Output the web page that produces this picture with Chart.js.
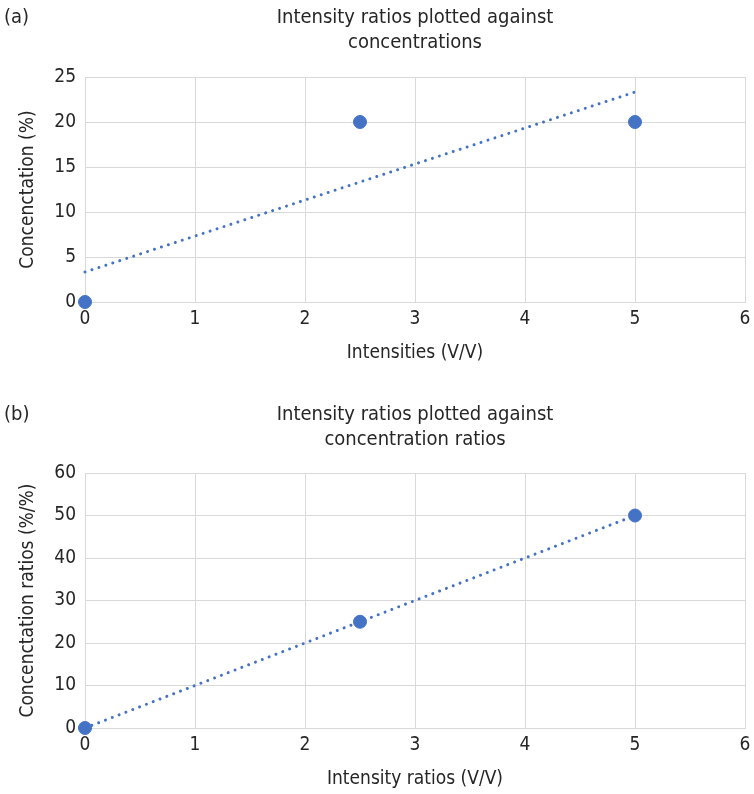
<!DOCTYPE html>
<html>
<head>
<meta charset="utf-8">
<script src="https://cdn.jsdelivr.net/npm/chart.js@4/dist/chart.umd.min.js"></script>
<style>
  html, body { margin: 0; padding: 0; background: #ffffff; }
  canvas { display: block; }
</style>
</head>
<body>
<canvas id="chartA" width="754" height="397"></canvas>
<canvas id="chartB" width="754" height="397"></canvas>
<script>
// Panel (a): intensities against concentrations
const intensitiesA = [0, 2.5, 5];
const concentrationsA = [0, 20, 20];
const trendXA = [0, 5];
const trendYA = [3.33, 23.33];

// Panel (b): intensity ratios against concentration ratios
const intensityRatiosB = [0, 2.5, 5];
const concentrationRatiosB = [0, 25, 50];
const trendXB = [0, 5];
const trendYB = [0, 50];

// Axis ranges and tick steps
const xTicks = { min: 0, max: 6, step: 1 };
const yTicksA = { min: 0, max: 25, step: 5 };
const yTicksB = { min: 0, max: 60, step: 10 };

const FONT = "'Liberation Sans Narrow', 'DejaVu Sans Condensed', 'Open Sans', sans-serif";
const TEXT = '#262626';
const GRID = '#d9d9d9';
const BLUE = '#4472c4';

const toPoints = (xs, ys) => xs.map((x, i) => ({ x: x, y: ys[i] }));

// Title lines centred over the plot area, plus the panel letter at top-left
const panelTitle = {
  id: 'panelTitle',
  afterDraw(chart, args, opts) {
    const { ctx, chartArea } = chart;
    ctx.save();
    ctx.fillStyle = TEXT;
    ctx.font = `20px ${FONT}`;
    ctx.textBaseline = 'middle';
    ctx.textAlign = 'left';
    ctx.fillText(opts.letter, 4, 18);
    ctx.textAlign = 'center';
    const cx = (chartArea.left + chartArea.right) / 2;
    opts.lines.forEach((line, i) => ctx.fillText(line, cx, 18 + i * 25));
    ctx.restore();
  }
};

function makeChart(id, cfg) {
  return new Chart(document.getElementById(id), {
    type: 'scatter',
    data: {
      datasets: [
        {
          label: 'data',
          data: toPoints(cfg.xs, cfg.ys),
          backgroundColor: BLUE,
          borderColor: BLUE,
          pointRadius: 6.5,
          pointHoverRadius: 6.5,
          clip: false
        },
        {
          label: 'trend',
          type: 'line',
          data: toPoints(cfg.tx, cfg.ty),
          borderColor: BLUE,
          borderWidth: 3,
          borderDash: [0.01, 7.3],
          borderCapStyle: 'round',
          pointRadius: 0,
          fill: false,
          tension: 0,
          clip: false
        }
      ]
    },
    options: {
      responsive: false,
      animation: false,
      events: [],
      layout: { padding: { top: cfg.top, right: 9, bottom: cfg.bottom, left: 0 } },
      plugins: {
        legend: { display: false },
        tooltip: { enabled: false },
        panelTitle: { letter: cfg.letter, lines: cfg.title }
      },
      scales: {
        x: {
          type: 'linear',
          min: xTicks.min,
          max: xTicks.max,
          ticks: { stepSize: xTicks.step, padding: 6, color: TEXT, font: { family: FONT, size: 19 } },
          grid: { color: GRID, lineWidth: 1, drawTicks: false },
          border: { color: GRID },
          title: {
            display: true, text: cfg.xTitle, color: TEXT,
            font: { family: FONT, size: 19, lineHeight: 1.2 },
            padding: { top: 0, bottom: 4 }
          },
          afterFit(scale) {
            scale.height = 66;
            scale.paddingRight = 0;
            scale.paddingLeft = 0;
          }
        },
        y: {
          type: 'linear',
          min: cfg.yTicks.min,
          max: cfg.yTicks.max,
          ticks: { stepSize: cfg.yTicks.step, padding: 9, color: TEXT, font: { family: FONT, size: 19 } },
          grid: { color: GRID, lineWidth: 1, drawTicks: false },
          border: { color: GRID },
          title: {
            display: true, text: cfg.yTitle, color: TEXT,
            font: { family: FONT, size: 19, lineHeight: 1.2 },
            padding: { top: 17, bottom: 0 }
          },
          afterFit(scale) { scale.width = 85; }
        }
      }
    },
    plugins: [panelTitle]
  });
}

makeChart('chartA', {
  xs: intensitiesA, ys: concentrationsA, tx: trendXA, ty: trendYA,
  yTicks: yTicksA, top: 77, bottom: 29, letter: '(a)',
  title: ['Intensity ratios plotted against', 'concentrations'],
  xTitle: 'Intensities (V/V)', yTitle: 'Concenctation (%)'
});

makeChart('chartB', {
  xs: intensityRatiosB, ys: concentrationRatiosB, tx: trendXB, ty: trendYB,
  yTicks: yTicksB, top: 76, bottom: 0, letter: '(b)',
  title: ['Intensity ratios plotted against', 'concentration ratios'],
  xTitle: 'Intensity ratios (V/V)', yTitle: 'Concenctation ratios (%/%)'
});
</script>
</body>
</html>
